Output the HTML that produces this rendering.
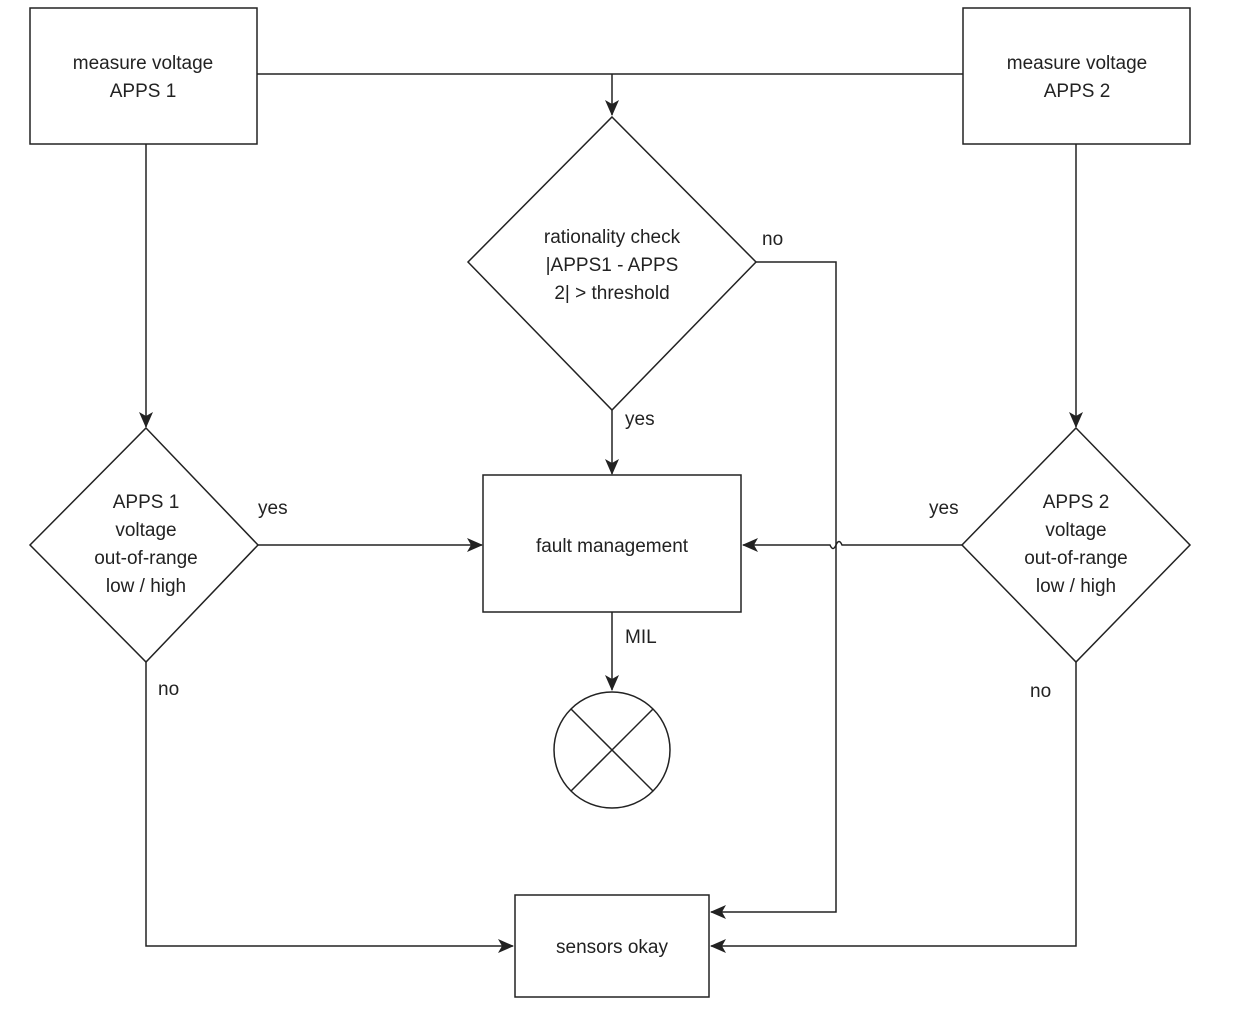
<!DOCTYPE html>
<html><head><meta charset="utf-8"><style>
html,body{margin:0;padding:0;background:#fff;}
svg{display:block;}
text{font-family:"Liberation Sans",Arial,sans-serif;font-size:19px;fill:#222;}
</style></head><body>
<svg width="1248" height="1018" viewBox="0 0 1248 1018" xmlns="http://www.w3.org/2000/svg">
<defs>
<marker id="a" markerWidth="10" markerHeight="10" refX="9" refY="5" orient="auto" markerUnits="userSpaceOnUse">
<path d="M0,0 L10,5 L0,10 z" fill="#222"/></marker>
<marker id="b" markerWidth="16" markerHeight="14" refX="15" refY="7" orient="auto" markerUnits="userSpaceOnUse">
<path d="M0,0 L16,7 L0,14 L4,7 z" fill="#222"/></marker>
</defs>
<g stroke="#222" stroke-width="1.5" fill="none">
<rect x="30" y="8" width="227" height="136"/>
<rect x="963" y="8" width="227" height="136"/>
<line x1="257" y1="74" x2="963" y2="74"/>
<line x1="612" y1="74" x2="612" y2="115" marker-end="url(#b)"/>
<polygon points="612,117 756,262 612,410 468,262"/>
<polyline points="756,262 836,262 836,912 711,912" marker-end="url(#b)"/>
<line x1="612" y1="410" x2="612" y2="474" marker-end="url(#b)"/>
<rect x="483" y="475" width="258" height="137"/>
<line x1="612" y1="612" x2="612" y2="690" marker-end="url(#b)"/>
<circle cx="612" cy="750" r="58"/>
<line x1="571" y1="709" x2="653" y2="791"/>
<line x1="653" y1="709" x2="571" y2="791"/>
<line x1="146" y1="144" x2="146" y2="427" marker-end="url(#b)"/>
<polygon points="146,428 258,545 146,662 30,545"/>
<line x1="1076" y1="144" x2="1076" y2="427" marker-end="url(#b)"/>
<polygon points="1076,428 1190,545 1076,662 962,545"/>
<line x1="258" y1="545" x2="482" y2="545" marker-end="url(#b)"/>
<path d="M962,545 L842,545 Q839,538 836,545 Q833,552 830,545 L743,545" marker-end="url(#b)"/>
<rect x="515" y="895" width="194" height="102"/>
<polyline points="146,662 146,946 513,946" marker-end="url(#b)"/>
<polyline points="1076,662 1076,946 711,946" marker-end="url(#b)"/>
</g>
<g text-anchor="middle">
<text x="143" y="69">measure voltage</text>
<text x="143" y="97">APPS 1</text>
<text x="1077" y="69">measure voltage</text>
<text x="1077" y="97">APPS 2</text>
<text x="612" y="243">rationality check</text>
<text x="612" y="271">|APPS1 - APPS</text>
<text x="612" y="299">2| &gt; threshold</text>
<text x="612" y="552">fault management</text>
<text x="146" y="508">APPS 1</text>
<text x="146" y="536">voltage</text>
<text x="146" y="564">out-of-range</text>
<text x="146" y="592">low / high</text>
<text x="1076" y="508">APPS 2</text>
<text x="1076" y="536">voltage</text>
<text x="1076" y="564">out-of-range</text>
<text x="1076" y="592">low / high</text>
<text x="612" y="953">sensors okay</text>
</g>
<text x="762" y="245">no</text>
<text x="625" y="425">yes</text>
<text x="625" y="643">MIL</text>
<text x="258" y="514">yes</text>
<text x="929" y="514">yes</text>
<text x="158" y="695">no</text>
<text x="1030" y="697">no</text>
</svg>
</body></html>
